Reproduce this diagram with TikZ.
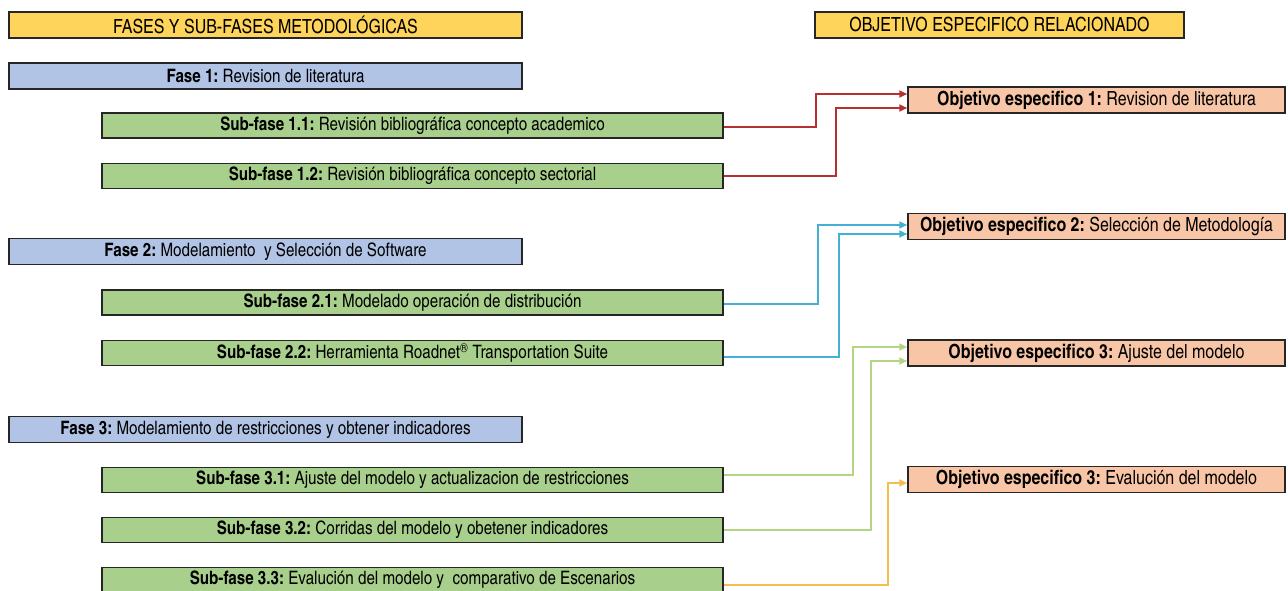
\documentclass[tikz,border=0pt]{standalone}
\usepackage{fontspec}
\setmainfont{texgyreheroscn}[Extension=.otf, UprightFont=*-regular, BoldFont=*-bold, ItalicFont=*-italic, BoldItalicFont=*-bolditalic]
\usetikzlibrary{arrows.meta, positioning}
\definecolor{metHead}{HTML}{FFD45A}
\definecolor{metFase}{HTML}{B1C4E6}
\definecolor{metSub}{HTML}{A8CF8C}
\definecolor{metObj}{HTML}{F8C6A6}
\definecolor{metLine}{HTML}{262626}
\definecolor{metRed}{HTML}{B5312F}
\definecolor{metBlue}{HTML}{45B0D6}
\definecolor{metGreen}{HTML}{B2D684}
\definecolor{metGold}{HTML}{F4BE50}
\tikzset{
  metfig/.style={
    x=1pt, y=-1pt,
    every node/.append style={font=\fontsize{18.5}{20}\selectfont},
    >={Triangle[length=8pt, width=7pt]},
  },
  basebox/.style={
    draw=metLine, line width=1.5pt, inner sep=1pt, align=center,
    minimum height=26pt,
  },
  headbox/.style={basebox, fill=metHead, minimum width=513pt,
    font=\fontsize{19.5}{21}\selectfont},
  fasebox/.style={basebox, fill=metFase, minimum width=513pt},
  subbox/.style={basebox, fill=metSub, minimum width=621pt, minimum height=25pt},
  objbox/.style={basebox, fill=metObj, minimum width=377pt,
    font=\fontsize{19.5}{21}\selectfont},
  % un color de flecha por cada fase
  link/.style={line width=2pt, ->},
  redlink/.style={link, draw=metRed, color=metRed},
  bluelink/.style={link, draw=metBlue, color=metBlue},
  greenlink/.style={link, draw=metGreen, color=metGreen},
  goldlink/.style={link, draw=metGold, color=metGold},
}

\begin{document}
\begin{tikzpicture}[metfig]
  \useasboundingbox (0,0) rectangle (1288,591);
  \node[headbox] (FasesHead) at (265.5,25) {FASES Y SUB-FASES METODOLÓGICAS};
  \node[headbox, minimum width=369pt] (ObjHead) at (999.5,25) {OBJETIVO ESPECIFICO RELACIONADO};
  \node[fasebox] (Fase1) at (265.5,76) {\textbf{Fase 1:}\ Revision de literatura};
  \node[subbox] (SubFase11) at (412.5,125.5) {\textbf{Sub-fase 1.1:}\ Revisión bibliográfica concepto academico};
  \node[subbox] (SubFase12) at (412.5,176) {\textbf{Sub-fase 1.2:}\ Revisión bibliográfica concepto sectorial};
  \node[fasebox] (Fase2) at (265.5,251.5) {\textbf{Fase 2:}\ Modelamiento~ y Selección de Software};
  \node[subbox] (SubFase21) at (412.5,302.5) {\textbf{Sub-fase 2.1:}\ Modelado operación de distribución};
  \node[subbox] (SubFase22) at (412.5,353) {\textbf{Sub-fase 2.2:}\ Herramienta Roadnet\textsuperscript{®} Transportation Suite};
  \node[fasebox] (Fase3) at (265.5,429.5) {\textbf{Fase 3:}\ Modelamiento de restricciones y obtener indicadores};
  \node[subbox] (SubFase31) at (412.5,480) {\textbf{Sub-fase 3.1:}\ Ajuste del modelo y actualizacion de restricciones};
  \node[subbox] (SubFase32) at (412.5,530) {\textbf{Sub-fase 3.2:}\ Corridas del modelo y obetener indicadores};
  \node[subbox] (SubFase33) at (412.5,580) {\textbf{Sub-fase 3.3:}\ Evalución del modelo y~ comparativo de Escenarios};
  \node[objbox] (Objetivo1) at (1096.5,100) {\textbf{Objetivo especifico 1:}\ Revision de literatura};
  \node[objbox] (Objetivo2) at (1096.5,226.5) {\textbf{Objetivo especifico 2:}\ Selección de Metodología};
  \node[objbox] (Objetivo3) at (1096.5,353) {\textbf{Objetivo especifico 3:}\ Ajuste del modelo};
  \node[objbox] (Objetivo4) at (1096.5,479.5) {\textbf{Objetivo especifico 3:}\ Evalución del modelo};
  \draw[redlink] ([yshift=-1.5pt]SubFase11.east) -- ++(92,0) |- ([yshift=6pt]Objetivo1.west);
  \draw[redlink] (SubFase12.east) -- ++(112,0) |- ([yshift=-8pt]Objetivo1.west);
  \draw[bluelink] ([yshift=-1.5pt]SubFase21.east) -- ++(94,0) |- ([yshift=1.5pt]Objetivo2.west);
  \draw[bluelink] ([yshift=-4pt]SubFase22.east) -- ++(115,0) |- ([yshift=-7.5pt]Objetivo2.west);
  \draw[greenlink] ([yshift=5pt]SubFase31.east) -- ++(129,0) |- ([yshift=6pt]Objetivo3.west);
  \draw[greenlink] (SubFase32.east) -- ++(147,0) |- ([yshift=-8pt]Objetivo3.west);
  \draw[goldlink] ([yshift=-5pt]SubFase33.east) -- ++(164,0) |- ([yshift=-3.5pt]Objetivo4.west);
\end{tikzpicture}
\end{document}
